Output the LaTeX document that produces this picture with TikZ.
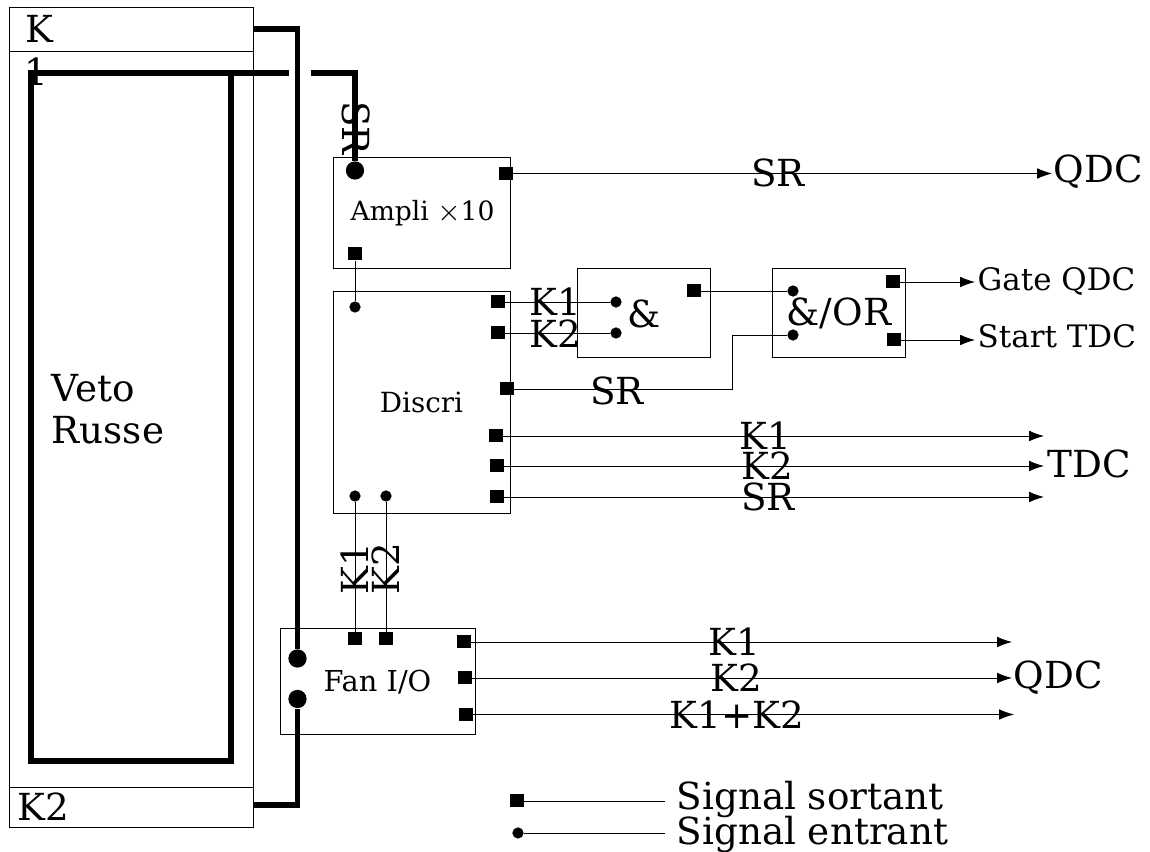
\documentclass[tikz,border=0pt]{standalone}
\usepackage{fontspec}
\setmainfont{DejaVu Serif}
\usetikzlibrary{arrows.meta}
\newcommand{\grand}{\fontsize{10.6}{12}\selectfont}
\newcommand{\moyen}{\fontsize{7.9}{10}\selectfont}
\newcommand{\sortie}{\fontsize{8.8}{10}\selectfont}
\tikzset{
  boite/.style={draw, line width=0.22pt, inner sep=0pt},
  sortant/.style={fill=black, inner sep=0pt, minimum size=3.7pt},
  entrant/.style={circle, fill=black, inner sep=0pt, minimum size=3.2pt},
  gros/.style={circle, fill=black, inner sep=0pt, minimum size=5.2pt},
  etiq/.style={inner sep=0pt, font=\grand},
  fil/.style={line width=0.25pt},
  fleche/.style={line width=0.25pt, -{Latex[length=4.2pt,width=3pt]}},
  epais/.style={line width=1.45pt}
}
\begin{document}
\begin{tikzpicture}[x=0.01cm, y=-0.01cm]
  \useasboundingbox (0,0) rectangle (1150,852);
  % veto
  \node[boite, minimum width=244*0.01cm, minimum height=820*0.01cm] (veto) at (131,417) {};
  \node[boite, minimum width=244*0.01cm, minimum height=44*0.01cm] (vetoK) at (131,29) {};
  \node[boite, minimum width=244*0.01cm, minimum height=40*0.01cm] (vetoKb) at (131,807) {};
  \node[etiq] (labK) at (39.5,29) {K};
  \node[etiq] (labun) at (36,72) {1};
  \node[etiq] (labKb) at (43,807) {K2};
  \node[etiq, align=left, anchor=west] (labveto) at (51,409) {Veto\\Russe};
  % boites
  \node[boite, minimum width=177*0.01cm, minimum height=111*0.01cm] (ampli) at (421.5,212.5) {};
  \node[boite, minimum width=177*0.01cm, minimum height=222*0.01cm, font=\moyen] (discri) at (421.5,402) {Discri};
  \node[boite, minimum width=133*0.01cm, minimum height=89*0.01cm] (et) at (643.5,312.5) {};
  \node[boite, minimum width=133*0.01cm, minimum height=89*0.01cm] (etou) at (838.5,312.5) {};
  \node[boite, minimum width=195*0.01cm, minimum height=106*0.01cm] (fan) at (377.5,681) {};
  \node[inner sep=0pt, font=\fontsize{7.55}{10}\selectfont] (labampli) at (422.5,213) {Ampli $\times$10};
  \node[etiq] (labet) at (644,314) {\&};
  \node[etiq] (labetou) at (839,313) {\&/OR};
  \node[inner sep=0pt, font=\fontsize{8.2}{10}\selectfont] (labfan) at (377.5,682) {Fan I/O};
  % fils epais
  \node[gros] (amplie) at (355,170.5) {};
  \node[gros] (fana) at (297.5,658.5) {};
  \node[gros] (fanb) at (297.5,699) {};
  \coordinate (bouclea) at (31,73);
  \coordinate (boucleb) at (231,73);
  \coordinate (coupea) at (289,73);
  \coordinate (coupeb) at (311,73);
  \coordinate (Kout) at (253,29);
  \coordinate (Kbout) at (253,805);
  \draw[epais] (coupea) -- (bouclea) -- (31,761) -- (231,761) -- (boucleb);
  \draw[epais] (coupeb) -- (355,73) -- (amplie);
  \draw[epais] (Kout) -- (297.5,29) -- (fana);
  \draw[epais] (Kbout) -- (297.5,805) -- (fanb);
  \node[etiq, rotate=-90] (labSRv) at (356,128) {SR};
  % ampli
  \node[sortant] (ampliq) at (506,173.5) {};
  \node[sortant] (amplis) at (355,253.5) {};
  \node[entrant] (discrie) at (355,307) {};
  \coordinate (qdca) at (1052,173.5);
  \draw[fleche] (ampliq) -- (qdca);
  \draw[fil] (amplis) -- (discrie);
  \node[etiq] (labSRa) at (778,173) {SR};
  \node[etiq, anchor=west] (labqdca) at (1053,172) {QDC};
  % discri vers et
  \node[sortant] (discria) at (498,302) {};
  \node[sortant] (discrib) at (498,333) {};
  \node[sortant] (discric) at (507,389) {};
  \node[entrant] (eta) at (616,302) {};
  \node[entrant] (etb) at (616,333) {};
  \node[sortant] (ets) at (694,291) {};
  \node[entrant] (etoua) at (793,291) {};
  \node[entrant] (etoub) at (793,335) {};
  \draw[fil] (discria) -- (eta);
  \draw[fil] (discrib) -- (etb);
  \draw[fil] (ets) -- (etoua);
  \draw[fil] (discric) -- (732,389) -- (732,335) -- (etoub);
  \node[etiq] (labKa) at (555.5,302) {K1};
  \node[etiq] (labKc) at (555.5,334) {K2};
  \node[etiq] (labSRb) at (617,391) {SR};
  % sorties etou
  \node[sortant] (etousa) at (893,282) {};
  \node[sortant] (etousb) at (894,340) {};
  \coordinate (gate) at (975,282);
  \coordinate (start) at (975,340);
  \draw[fleche] (etousa) -- (gate);
  \draw[fleche] (etousb) -- (start);
  \node[inner sep=0pt, anchor=west, font=\sortie] (labgate) at (977,282) {Gate QDC};
  \node[inner sep=0pt, anchor=west, font=\sortie] (labstart) at (977,336) {Start TDC};
  % vers TDC
  \node[sortant] (discrid) at (496,436) {};
  \node[sortant] (discrif) at (497,466) {};
  \node[sortant] (discrig) at (497,497) {};
  \coordinate (tdca) at (1044,436);
  \coordinate (tdcb) at (1044,466);
  \coordinate (tdcc) at (1044,497);
  \draw[fleche] (discrid) -- (tdca);
  \draw[fleche] (discrif) -- (tdcb);
  \draw[fleche] (discrig) -- (tdcc);
  \node[etiq] (labKd) at (765.5,436) {K1};
  \node[etiq] (labKf) at (767.5,466) {K2};
  \node[etiq] (labSRc) at (768,497) {SR};
  \node[etiq, anchor=west] (labtdc) at (1047,464) {TDC};
  % fan vers discri
  \node[entrant] (discrih) at (355,496) {};
  \node[entrant] (discrii) at (386,496) {};
  \node[sortant] (fanh) at (355,639) {};
  \node[sortant] (fani) at (386,639) {};
  \draw[fil] (discrih) -- (fanh);
  \draw[fil] (discrii) -- (fani);
  \node[etiq, rotate=90] (labKg) at (355,569) {K1};
  \node[etiq, rotate=90] (labKh) at (386,569) {K2};
  % fan vers QDC
  \node[sortant] (fanc) at (464,642) {};
  \node[sortant] (fand) at (465,678) {};
  \node[sortant] (fane) at (466,714.5) {};
  \coordinate (qdcb) at (1012,642);
  \coordinate (qdcc) at (1012,678);
  \coordinate (qdcd) at (1014,714.5);
  \draw[fleche] (fanc) -- (qdcb);
  \draw[fleche] (fand) -- (qdcc);
  \draw[fleche] (fane) -- (qdcd);
  \node[etiq] (labKi) at (734,642) {K1};
  \node[etiq] (labKj) at (736,678) {K2};
  \node[etiq] (labKk) at (737,715) {K1+K2};
  \node[etiq, anchor=west] (labqdcb) at (1013,678) {QDC};
  % legende
  \node[sortant] (legs) at (517,801) {};
  \node[entrant] (lege) at (518,833) {};
  \coordinate (legsf) at (665,801);
  \coordinate (legef) at (665,833);
  \draw[fil] (legs) -- (legsf);
  \draw[fil] (lege) -- (legef);
  \node[etiq, anchor=west] (labs) at (676,799) {Signal sortant};
  \node[etiq, anchor=west] (labe) at (676,834) {Signal entrant};
\end{tikzpicture}
\end{document}
